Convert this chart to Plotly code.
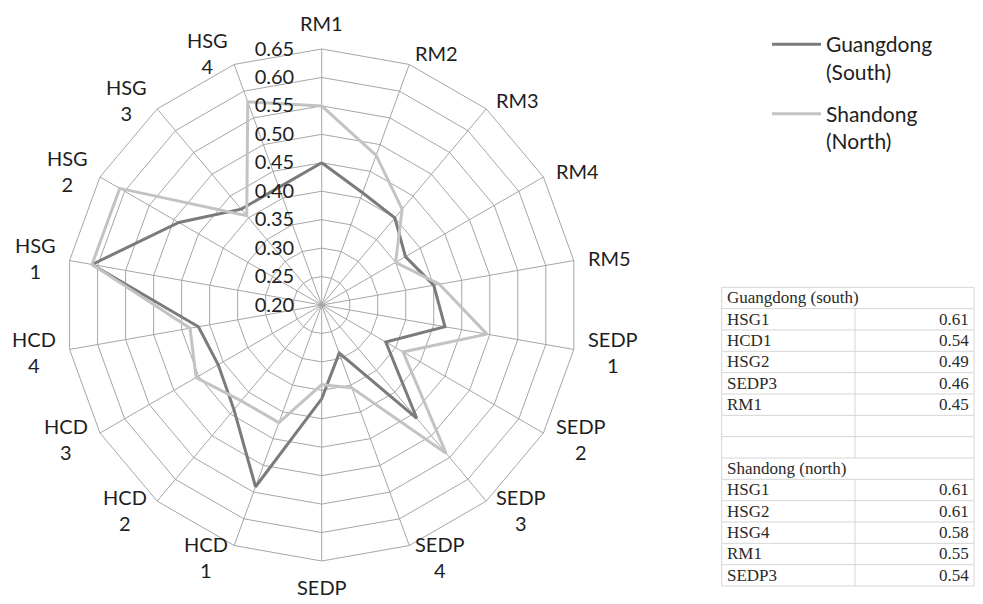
import math
import plotly.graph_objects as go

categories = ["RM1", "RM2", "RM3", "RM4", "RM5", "SEDP1", "SEDP2", "SEDP3", "SEDP4", "SEDP5",
              "HCD1", "HCD2", "HCD3", "HCD4", "HSG1", "HSG2", "HSG3", "HSG4"]
tick_labels = ["RM1", "RM2", "RM3", "RM4", "RM5", "SEDP<br>1", "SEDP<br>2", "SEDP<br>3", "SEDP<br>4", "SEDP",
               "HCD<br>1", "HCD<br>2", "HCD<br>3", "HCD<br>4", "HSG<br>1", "HSG<br>2", "HSG<br>3", "HSG<br>4"]

guangdong = [0.45, 0.41, 0.40, 0.37, 0.40, 0.42, 0.33, 0.46, 0.29, 0.365,
             0.54, 0.44, 0.41, 0.42, 0.61, 0.49, 0.42, 0.42]
shandong = [0.55, 0.48, 0.42, 0.35, 0.41, 0.495, 0.365, 0.54, 0.355, 0.34,
            0.42, 0.42, 0.455, 0.435, 0.61, 0.61, 0.405, 0.58]

radial_ticks = [0.20, 0.25, 0.30, 0.35, 0.40, 0.45, 0.50, 0.55, 0.60, 0.65]

table_names = ["Guangdong (south)", "HSG1", "HCD1", "HSG2", "SEDP3", "RM1", "", "",
               "Shandong (north)", "HSG1", "HSG2", "HSG4", "RM1", "SEDP3"]
table_values = ["", "0.61", "0.54", "0.49", "0.46", "0.45", "", "",
                "", "0.61", "0.61", "0.58", "0.55", "0.54"]
table_title_rows = [0, 8]

W, H = 983, 604
cx, cy, R = 321.7, 305.0, 256.0

FONT = "Lato"
GRID = "#a6a6a6"
TXT = "#1e1e1e"

fig = go.Figure()
fig.add_trace(go.Scatterpolar(
    r=guangdong + guangdong[:1], theta=categories + categories[:1],
    mode="lines", name="Guangdong<br>(South)", legendgroup="g",
    line=dict(color="#7b7b7b", width=3)))
fig.add_trace(go.Scatterpolar(
    r=shandong + shandong[:1], theta=categories + categories[:1],
    mode="lines", name="Shandong<br>(North)", legendgroup="s",
    line=dict(color="#c3c3c3", width=3)))

px = lambda v: v / W
py = lambda v: 1 - v / H

# --- category labels around the chart (Excel-style placement) ---
annotations = []
label_gap = 268.0
n = len(categories)
for k, lab in enumerate(tick_labels):
    th = math.radians(360.0 * k / n)
    s, c = math.sin(th), math.cos(th)
    x = cx + label_gap * s
    y = cy - label_gap * c
    if abs(s) < 1e-6:
        xa = "center"
        ya = "bottom" if c > 0 else "top"
    else:
        xa = "left" if s > 0 else "right"
        ya = "middle"
    annotations.append(dict(text=lab, x=px(x), y=py(y), xref="paper", yref="paper",
                            xanchor=xa, yanchor=ya, align="center", showarrow=False,
                            font=dict(family=FONT, size=20, color=TXT)))

# --- summary table (shapes + text) ---
tx0, tx1, tdiv = 721.7, 974.0, 855.0
ty0, ty1 = 287.3, 586.0
nrows = len(table_names)
rh = (ty1 - ty0) / nrows
LC = "#d6d6d6"
shapes = []
for i in range(nrows + 1):
    y = ty0 + i * rh
    shapes.append(dict(type="line", xref="paper", yref="paper", x0=px(tx0), x1=px(tx1),
                       y0=py(y), y1=py(y), line=dict(color=LC, width=1)))
shapes.append(dict(type="line", xref="paper", yref="paper", x0=px(tx0), x1=px(tx0),
                   y0=py(ty0), y1=py(ty1), line=dict(color=LC, width=1)))
shapes.append(dict(type="line", xref="paper", yref="paper", x0=px(tx1), x1=px(tx1),
                   y0=py(ty0), y1=py(ty1), line=dict(color=LC, width=1)))
for i in range(nrows):
    if i in table_title_rows:
        continue
    shapes.append(dict(type="line", xref="paper", yref="paper", x0=px(tdiv), x1=px(tdiv),
                       y0=py(ty0 + i * rh), y1=py(ty0 + (i + 1) * rh), line=dict(color=LC, width=1)))
tfont = dict(family="Liberation Serif", size=17, color="#2a2a2a")
for i, (nm, val) in enumerate(zip(table_names, table_values)):
    yc = py(ty0 + (i + 0.5) * rh)
    if nm:
        annotations.append(dict(text=nm, x=px(tx0 + 3), y=yc, xref="paper", yref="paper",
                                xanchor="left", yanchor="middle", showarrow=False, font=tfont))
    if val:
        annotations.append(dict(text=val, x=px(tx1 - 3), y=yc, xref="paper", yref="paper",
                                xanchor="right", yanchor="middle", showarrow=False, font=tfont))

fig.update_layout(
    width=W, height=H,
    margin=dict(l=0, r=0, t=0, b=0),
    paper_bgcolor="white",
    font=dict(family=FONT, size=20, color=TXT),
    shapes=shapes, annotations=annotations,
    polar=dict(
        domain=dict(x=[(cx - R) / W, (cx + R) / W], y=[(H - cy - R) / H, (H - cy + R) / H]),
        bgcolor="white",
        gridshape="linear",
        radialaxis=dict(range=[0.20, 0.65], tickvals=radial_ticks, tickformat=".2f",
                        angle=90, tickangle=90, side="counterclockwise",
                        showline=False, gridcolor=GRID, gridwidth=1,
                        ticks="outside", ticklen=20, tickcolor="rgba(0,0,0,0)",
                        tickfont=dict(family=FONT, size=20, color=TXT)),
        angularaxis=dict(direction="clockwise", rotation=90, type="category",
                         categoryarray=categories, showticklabels=False, ticks="",
                         linecolor=GRID, linewidth=1, gridcolor=GRID, gridwidth=1),
    ),
    showlegend=True,
    legend=dict(x=767 / W, y=1 - 24 / H, xanchor="left", yanchor="top",
                valign="top", font=dict(family=FONT, size=21, color=TXT),
                itemwidth=49, tracegroupgap=12, bgcolor="rgba(0,0,0,0)"),
)

fig.write_html("out.html", config={"displayModeBar": False},
               post_script="document.body.style.margin='0';")
